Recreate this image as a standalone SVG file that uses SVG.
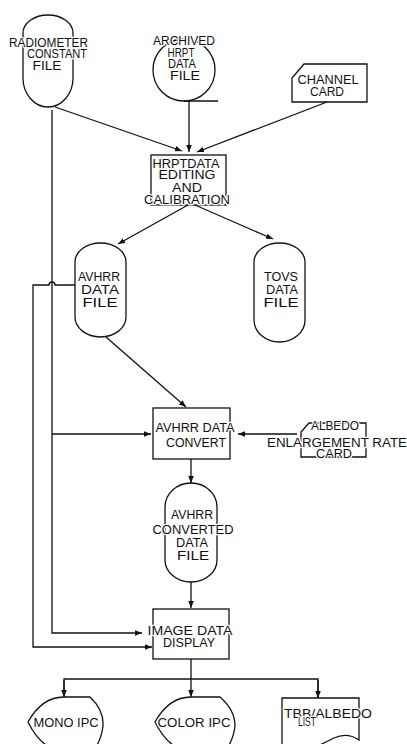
<svg xmlns="http://www.w3.org/2000/svg" width="407" height="744" viewBox="0 0 407 744">
<style>
  .s{fill:none;stroke:#111;stroke-width:1.3}
  .t{font-family:"Liberation Sans","DejaVu Sans",sans-serif;font-size:12px;fill:#111;text-anchor:middle;paint-order:stroke;stroke:#fff;stroke-width:2.5px;stroke-linejoin:round}
  .c{fill:none;stroke:#111;stroke-width:1.3;marker-end:url(#ah)}
  .l{fill:none;stroke:#111;stroke-width:1.3}
</style>
<defs>
  <marker id="ah" viewBox="0 0 10 10" refX="10" refY="5" markerWidth="7" markerHeight="7" markerUnits="userSpaceOnUse" orient="auto">
    <path d="M0,1 L10,5 L0,9 Z" fill="#111"/>
  </marker>
</defs>
<rect width="407" height="744" fill="#fff"/>

<g id="connectors">
  <line class="c" x1="55" y1="107" x2="182" y2="151"/>
  <line class="c" x1="189" y1="101" x2="189" y2="152"/>
  <line class="c" x1="327" y1="102" x2="197" y2="152"/>
  <line class="c" x1="188" y1="205" x2="118" y2="244"/>
  <line class="c" x1="195" y1="205" x2="273" y2="239"/>
  <line class="c" x1="106" y1="337" x2="186" y2="407"/>
  <polyline class="c" points="52,110 52,633 142,633"/>
  <line class="c" x1="52" y1="434" x2="151" y2="434"/>
  <path class="c" d="M75,285 L55,285 A3,3 0 0 0 49,285 L33,285 L33,647 L152,647"/>
  <line class="c" x1="297" y1="434" x2="238" y2="434"/>
  <line class="c" x1="191" y1="459" x2="191" y2="483"/>
  <line class="c" x1="191" y1="582" x2="191" y2="608"/>
  <line class="c" x1="191" y1="659" x2="191" y2="697"/>
  <polyline class="l" points="64,697 64,679 318,679 318,698"/>
  <line class="c" x1="64" y1="680" x2="64" y2="697"/>
  <line class="c" x1="318" y1="680" x2="318" y2="698"/>
</g>

<g id="radiometer-constant-file">
  <path class="s" d="M23,33 A25,18 0 0 1 73,33 L73,78 A25,29 0 0 1 23,78 Z"/>
  <text class="t" x="48.5" y="46.5" textLength="79" lengthAdjust="spacingAndGlyphs">RADIOMETER</text>
  <text class="t" x="57" y="57.5" textLength="60" lengthAdjust="spacingAndGlyphs">CONSTANT</text>
  <text class="t" x="47" y="69.5" textLength="29" lengthAdjust="spacingAndGlyphs">FILE</text>
</g>

<g id="archived-hrpt-data-file">
  <circle class="s" cx="184" cy="70" r="31"/>
  <line class="s" x1="184" y1="101" x2="218" y2="101"/>
  <text class="t" x="184" y="44.5" textLength="62" lengthAdjust="spacingAndGlyphs">ARCHIVED</text>
  <text class="t" x="181" y="56.5" textLength="27" lengthAdjust="spacingAndGlyphs">HRPT</text>
  <text class="t" x="182" y="67.5" textLength="28" lengthAdjust="spacingAndGlyphs">DATA</text>
  <text class="t" x="185" y="79.5" textLength="30" lengthAdjust="spacingAndGlyphs">FILE</text>
</g>

<g id="channel-card">
  <path class="s" d="M292,102 L292,78 L304,64 L367,64 L367,102 Z"/>
  <text class="t" x="328" y="83.5" textLength="61" lengthAdjust="spacingAndGlyphs">CHANNEL</text>
  <text class="t" x="327" y="95.5" textLength="34" lengthAdjust="spacingAndGlyphs">CARD</text>
</g>

<g id="hrpt-data-editing">
  <rect class="s" x="151" y="155" width="75" height="50"/>
  <text class="t" x="186" y="167.5" textLength="67" lengthAdjust="spacingAndGlyphs">HRPTDATA</text>
  <text class="t" x="187" y="179" textLength="57" lengthAdjust="spacingAndGlyphs">EDITING</text>
  <text class="t" x="187" y="191.5" textLength="30" lengthAdjust="spacingAndGlyphs">AND</text>
  <text class="t" x="187" y="203.5" textLength="86" lengthAdjust="spacingAndGlyphs">CALIBRATION</text>
</g>

<g id="avhrr-data-file">
  <path class="s" d="M75,262 A25.5,19 0 0 1 126,262 L126,317 A25.5,20 0 0 1 75,317 Z"/>
  <text class="t" x="99" y="280.5" textLength="42" lengthAdjust="spacingAndGlyphs">AVHRR</text>
  <text class="t" x="100" y="293.5" textLength="38" lengthAdjust="spacingAndGlyphs">DATA</text>
  <text class="t" x="100" y="306.5" textLength="35" lengthAdjust="spacingAndGlyphs">FILE</text>
</g>

<g id="tovs-data-file">
  <path class="s" d="M254,262 A25.5,19 0 0 1 305,262 L305,320 A25.5,22 0 0 1 254,320 Z"/>
  <text class="t" x="281" y="280.5" textLength="34" lengthAdjust="spacingAndGlyphs">TOVS</text>
  <text class="t" x="282" y="293.5" textLength="32" lengthAdjust="spacingAndGlyphs">DATA</text>
  <text class="t" x="281" y="306.5" textLength="35" lengthAdjust="spacingAndGlyphs">FILE</text>
</g>

<g id="avhrr-data-convert">
  <rect class="s" x="153" y="408" width="77" height="51"/>
  <text class="t" x="195" y="431.5" textLength="79" lengthAdjust="spacingAndGlyphs">AVHRR DATA</text>
  <text class="t" x="196" y="446.5" textLength="60" lengthAdjust="spacingAndGlyphs">CONVERT</text>
</g>

<g id="albedo-card">
  <path class="s" d="M301,457 L301,432 L309,423 L366,423 L366,457 Z"/>
  <text class="t" x="335" y="429.5" textLength="48" lengthAdjust="spacingAndGlyphs">ALBEDO</text>
  <text class="t" x="337" y="446.5" textLength="140" lengthAdjust="spacingAndGlyphs">ENLARGEMENT RATE</text>
  <text class="t" x="334" y="457.5" textLength="36" lengthAdjust="spacingAndGlyphs">CARD</text>
</g>

<g id="avhrr-converted-data-file">
  <path class="s" d="M165,507 A26,24 0 0 1 217,507 L217,560 A26,22 0 0 1 165,560 Z"/>
  <text class="t" x="192" y="518.5" textLength="42" lengthAdjust="spacingAndGlyphs">AVHRR</text>
  <text class="t" x="193" y="533.5" textLength="81" lengthAdjust="spacingAndGlyphs">CONVERTED</text>
  <text class="t" x="192" y="546.5" textLength="32" lengthAdjust="spacingAndGlyphs">DATA</text>
  <text class="t" x="193" y="559.5" textLength="32" lengthAdjust="spacingAndGlyphs">FILE</text>
</g>

<g id="image-data-display">
  <rect class="s" x="153" y="609" width="76" height="50"/>
  <text class="t" x="190" y="634.5" textLength="85" lengthAdjust="spacingAndGlyphs">IMAGE DATA</text>
  <text class="t" x="189" y="646.5" textLength="52" lengthAdjust="spacingAndGlyphs">DISPLAY</text>
</g>

<g id="mono-ipc">
  <path class="s" d="M28,722 Q42,697 64,697 L90,697 Q104,710 103,726 Q101,742 92,752 L64,752 Q42,750 28,722 Z"/>
  <text class="t" x="66" y="726.5" textLength="65" lengthAdjust="spacingAndGlyphs">MONO IPC</text>
</g>

<g id="color-ipc">
  <path class="s" d="M155,722 Q169,697 191,697 L220,697 Q235,710 235,726 Q233,742 224,752 L191,752 Q169,750 155,722 Z"/>
  <text class="t" x="194" y="726.5" textLength="73" lengthAdjust="spacingAndGlyphs">COLOR IPC</text>
</g>

<g id="tbb-albedo-list">
  <path class="s" d="M282,750 L282,698 L359,698 L359,740 Q347,732 334,738 Q318,746 305,752"/>
  <text class="t" x="328" y="717.5" textLength="88" lengthAdjust="spacingAndGlyphs">TBB/ALBEDO</text>
  <text class="t" x="307" y="726" textLength="18" lengthAdjust="spacingAndGlyphs">LIST</text>
</g>
</svg>
